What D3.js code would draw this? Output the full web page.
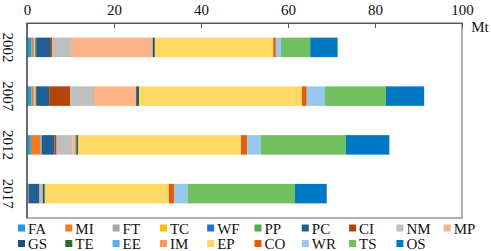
<!DOCTYPE html>
<html>
<head>
<meta charset="utf-8">
<script src="https://cdn.jsdelivr.net/npm/d3@7"></script>
<style>
  body { margin: 0; background: #fff; }
  text { font-family: "Liberation Serif", "Times New Roman", serif; fill: #111; }
</style>
</head>
<body>
<div id="chart"></div>
<script>
// data (Mt)
var years = ["2002", "2007", "2012", "2017"];
var sectors = ["FA", "MI", "FT", "TC", "WF", "PP", "PC", "CI", "NM", "MP",
               "GS", "TE", "EE", "IM", "EP", "CO", "WR", "TS", "OS"];
var colors = ["#1b9fe0", "#f47b20", "#a5a5a5", "#ffc000", "#1f70c8", "#4daf3f", "#1f5f94", "#b5440c", "#bfbfbf", "#ffb487",
              "#1f4e80", "#2e6b2b", "#5aaee6", "#f79a60", "#ffd966", "#e35d0a", "#9ac8ec", "#70c060", "#0079c4"];
var v2002 = [1.0, 0.4, 0.3, 0.2, 0.2, 0.0, 3.2, 0.5, 4.3, 18.8, 0.3, 0.2, 0.0, 0.0, 27.2, 0.6, 1.2, 6.7, 6.3];
var v2007 = [1.0, 0.4, 0.3, 0.3, 0.1, 0.0, 3.0, 4.8, 5.5, 9.7, 0.4, 0.3, 0.0, 0.0, 37.4, 1.1, 4.2, 14.0, 8.8];
var v2012 = [0.9, 2.1, 0.2, 0.1, 0.1, 0.0, 2.9, 0.5, 3.7, 0.7, 0.2, 0.4, 0.0, 0.0, 37.4, 1.4, 3.2, 19.5, 10.0];
var v2017 = [0.2, 0.0, 0.1, 0.0, 0.1, 0.0, 2.4, 0.1, 0.6, 0.1, 0.3, 0.2, 0.0, 0.0, 28.5, 1.2, 3.1, 24.7, 7.3];
var xTicks = [0, 20, 40, 60, 80, 100];

function drawChart() {
    var allValues = [v2002, v2007, v2012, v2017];
    var rows = years.map(function (yr, i) {
        var r = { year: yr };
        sectors.forEach(function (s, j) { r[s] = allValues[i][j]; });
        return r;
    });

    var w = 491, h = 251;
    var mLeft = 27, mRight = 462, mTop = 23, mBottom = 218;

    var svg = d3.select("#chart").append("svg")
        .attr("width", w).attr("height", h);

    var x = d3.scaleLinear().domain([0, 100]).range([mLeft, mRight]);
    var y = d3.scaleBand().domain(years).range([mTop, mBottom]).paddingInner(0.6).paddingOuter(0.3);
    var color = d3.scaleOrdinal().domain(sectors).range(colors);

    var series = d3.stack().keys(sectors)(rows);

    svg.append("g").selectAll("g")
        .data(series)
        .enter().append("g")
        .attr("fill", function (d) { return color(d.key); })
        .selectAll("rect")
        .data(function (d) { return d; })
        .enter().append("rect")
        .attr("x", function (d) { return x(d[0]); })
        .attr("width", function (d) { return x(d[1]) - x(d[0]); })
        .attr("y", function (d) { return y(d.data.year); })
        .attr("height", y.bandwidth());

    // frame
    svg.append("rect")
        .attr("x", mLeft).attr("y", mTop)
        .attr("width", mRight - mLeft).attr("height", mBottom - mTop)
        .attr("fill", "none").attr("stroke", "#7f7f7f").attr("stroke-width", 1.2);
    svg.append("line")
        .attr("x1", mLeft).attr("x2", mLeft).attr("y1", mTop).attr("y2", mBottom)
        .attr("stroke", "#555").attr("stroke-width", 1.5);

    // top axis
    var xAxis = d3.axisTop(x).tickValues(xTicks).tickSizeInner(-5).tickSizeOuter(0).tickPadding(8);
    var ax = svg.append("g").attr("transform", "translate(0," + mTop + ")").call(xAxis);
    ax.select(".domain").attr("stroke", "#555").attr("stroke-width", 1.2);
    ax.selectAll(".tick line").attr("stroke", "#555");
    ax.selectAll("text").attr("font-size", 15).attr("font-family", "Liberation Serif").attr("fill", "#111");

    svg.append("text").attr("x", 480).attr("y", 32).attr("text-anchor", "middle")
        .attr("font-size", 15).text("Mt");

    // year labels, rotated
    svg.append("g").selectAll("text")
        .data(years)
        .enter().append("text")
        .attr("transform", function (d) { return "translate(3," + (y(d) + y.bandwidth() / 2) + ") rotate(90)"; })
        .attr("text-anchor", "middle")
        .attr("font-size", 15)
        .text(function (d) { return d; });

    // legend
    var legend = svg.append("g").selectAll("g")
        .data(sectors)
        .enter().append("g")
        .attr("transform", function (d, i) {
            return "translate(" + (18 + (i % 10) * 47.3) + "," + (228 + Math.floor(i / 10) * 15.5) + ")";
        });
    legend.append("rect")
        .attr("x", 0).attr("y", -3.5).attr("width", 7).attr("height", 7)
        .attr("fill", function (d) { return color(d); });
    legend.append("text")
        .attr("x", 10).attr("y", 5.5)
        .attr("font-size", 15)
        .text(function (d) { return d; });
}

drawChart();
</script>
</body>
</html>
